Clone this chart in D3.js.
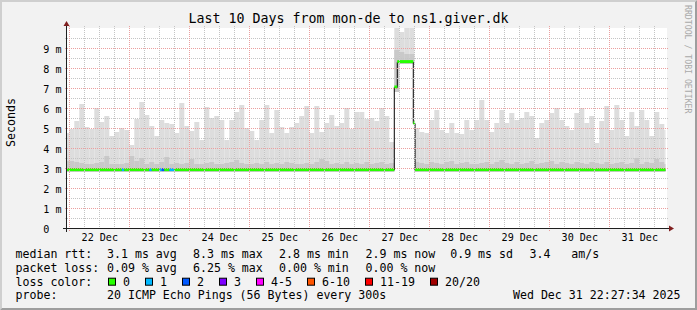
<!DOCTYPE html>
<html lang="en">
<head>
<meta charset="UTF-8" />
<title>Last 10 Days from mon-de to ns1.giver.dk</title>
<script src="https://cdn.jsdelivr.net/npm/d3@7"></script>
<style>
  body { margin: 0; background: #f2f2f2; }
  svg { display: block; font-family: "DejaVu Sans Mono", monospace; }
  text { white-space: pre; }
</style>
</head>
<body>
<svg width="697" height="310"></svg>
<script>
const title = "Last 10 Days from mon-de to ns1.giver.dk";

// smoke, one value per 2-hour bucket starting 21 Dec 22:00 (ms)
const smokeStart = new Date(2025, 11, 21, 22);
const smokeMax = [
  4.75,
  4.95, 5.35, 6.2, 5.05, 4.95, 6.0, 5.3, 5.6, 4.6, 4.8, 5.0, 4.9,
  4.15, 5.45, 6.3, 5.65, 5.1, 4.6, 5.4, 5.25, 5.2, 4.75, 6.25, 5.1,
  4.85, 5.3, 4.4, 6.05, 5.5, 5.6, 5.4, 4.4, 5.4, 5.8, 6.15, 5.0,
  4.85, 4.4, 5.4, 6.15, 4.75, 5.9, 5.05, 4.75, 5.05, 5.25, 5.6, 6.1,
  4.75, 6.1, 4.8, 5.25, 5.65, 5.1, 5.25, 6.0, 4.95, 5.8, 5.8, 5.45,
  5.5, 5.35, 6.0, 5.6, 4.3, 10.5, 9.8, 10.5, 10.5, 5.0, 4.8, 4.75,
  5.4, 5.9, 4.9, 4.75, 5.25, 4.75, 4.7, 5.4, 4.9, 5.4, 6.4, 5.4,
  4.8, 5.25, 5.9, 5.25, 5.75, 5.4, 5.5, 5.8, 5.6, 4.5, 5.25, 5.4,
  5.75, 6.0, 5.4, 5.1, 4.9, 5.75, 6.0, 5.25, 5.6, 4.25, 5.35, 6.1,
  4.9, 6.15, 5.4, 4.6, 5.8, 5.1, 5.9, 5.4, 4.6, 5.8, 5.2, 4.9
];
const smokeMid = [
  3.35,
  3.35, 3.3, 3.25, 3.2, 3.2, 3.25, 3.3, 3.6, 3.2, 3.2, 3.2, 3.25,
  3.6, 3.35, 3.5, 3.2, 3.3, 3.2, 3.3, 3.55, 3.2, 3.25, 3.2, 3.25,
  3.45, 3.2, 3.2, 3.25, 3.3, 3.2, 3.2, 3.25, 3.3, 3.4, 3.25, 3.2,
  3.2, 3.25, 3.2, 3.3, 3.2, 3.25, 3.2, 3.3, 3.25, 3.2, 3.2, 3.25,
  3.2, 3.3, 3.45, 3.35, 3.2, 3.25, 3.2, 3.3, 3.2, 3.25, 3.2, 3.3,
  3.2, 3.25, 3.3, 3.2, 3.25, 8.9, 8.8, 8.7, 8.7, 3.3, 3.25, 3.2,
  3.3, 3.25, 3.2, 3.3, 3.35, 3.2, 3.25, 3.3, 3.2, 3.2, 3.25, 3.3,
  3.2, 3.3, 3.4, 3.25, 3.2, 3.3, 3.2, 3.25, 3.35, 3.2, 3.25, 3.3,
  3.35, 3.2, 3.3, 3.25, 3.2, 3.3, 3.25, 3.2, 3.3, 3.25, 3.2, 3.3,
  3.2, 3.25, 3.3, 3.2, 3.25, 3.5, 3.2, 3.3, 3.25, 3.45, 3.3, 3.2
];
const smokeMin = [
  2.8,
  2.8, 2.8, 2.8, 2.8, 2.8, 2.8, 2.8, 2.8, 2.8, 2.8, 2.8, 2.8,
  2.8, 2.8, 2.8, 2.8, 2.8, 2.8, 2.8, 2.8, 2.8, 2.8, 2.8, 2.8,
  2.8, 2.8, 2.8, 2.8, 2.8, 2.8, 2.8, 2.8, 2.8, 2.8, 2.8, 2.8,
  2.8, 2.8, 2.8, 2.8, 2.8, 2.8, 2.8, 2.8, 2.8, 2.8, 2.8, 2.8,
  2.8, 2.8, 2.8, 2.8, 2.8, 2.8, 2.8, 2.8, 2.8, 2.8, 2.8, 2.8,
  2.8, 2.8, 2.8, 2.8, 2.8, 6.8, 8.2, 8.2, 8.2, 2.8, 2.8, 2.8,
  2.8, 2.8, 2.8, 2.8, 2.8, 2.8, 2.8, 2.8, 2.8, 2.8, 2.8, 2.8,
  2.8, 2.8, 2.8, 2.8, 2.8, 2.8, 2.8, 2.8, 2.8, 2.8, 2.8, 2.8,
  2.8, 2.8, 2.8, 2.8, 2.8, 2.8, 2.8, 2.8, 2.8, 2.8, 2.8, 2.8,
  2.8, 2.8, 2.8, 2.8, 2.8, 2.8, 2.8, 2.8, 2.8, 2.8, 2.8, 2.8
];

// median rtt steps, hours after 22 Dec 00:00
const day0 = new Date(2025, 11, 22);
const medianAt = [-2, 130, 131.2, 137.6, 138.3];
const medianMs = [2.92, 7.05, 8.32, 5.25, 2.92];
// packet loss count steps (out of 20), same hour base
const lossAt = [-2, 21, 22, 32, 33, 36, 37, 38, 40, 42];
const lossCount = [0, 1, 0, 1, 0, 1, 2, 0, 1, 0];

const lossLabels = ["0", "1", "2", "3", "4-5", "6-10", "11-19", "20/20"];
const lossColors = ["#26ff00", "#00b8ff", "#0059ff", "#7e00ff", "#ff00ff", "#ff5500", "#ff0000", "#a10000"];

const yTicks = [0, 1, 2, 3, 4, 5, 6, 7, 8, 9];
const rttStats = ["3.1 ms avg", "8.3 ms max", "2.8 ms min", "2.9 ms now", "0.9 ms sd", "3.4", "am/s"];
const lossStats = ["0.09 % avg", "6.25 % max", "0.00 % min", "0.00 % now"];
const probeText = "20 ICMP Echo Pings (56 Bytes) every 300s";
const stamp = "Wed Dec 31 22:27:34 2025";
const dataEnd = new Date(2025, 11, 31, 22, 27, 34);

const W = 697, H = 310;
const x0 = 67, x1 = 667, yTop = 28, yBot = 228;

const svg = d3.select("svg");
const x = d3.scaleTime()
  .domain([new Date(2025, 11, 21, 23, 5), new Date(2025, 11, 31, 23, 5)])
  .range([x0, x1]);
const y = d3.scaleLinear().domain([0, 10]).range([yBot, yTop]);
const hr = h => d3.timeMinute.offset(day0, Math.round(h * 60));

// background + 3d border
svg.append("rect").attr("width", W).attr("height", H).attr("fill", "#f2f2f2");
svg.append("path").attr("d", `M0,${H}L2,${H - 2}L2,2L${W - 2},2L${W},0L0,0Z`).attr("fill", "#cfcfcf");
svg.append("path").attr("d", `M2,${H - 2}L${W - 2},${H - 2}L${W - 2},2L${W},0L${W},${H}L0,${H}Z`).attr("fill", "#9e9e9e");

// canvas
svg.append("rect").attr("x", x0).attr("y", yTop).attr("width", x1 - x0).attr("height", yBot - yTop).attr("fill", "#fff");
svg.append("clipPath").attr("id", "plot")
  .append("rect").attr("x", x0).attr("y", yTop).attr("width", x1 - x0).attr("height", yBot - yTop);
const plot = svg.append("g").attr("clip-path", "url(#plot)");

// smoke
const bins = smokeMax.map((v, i) => {
  const t0 = d3.timeHour.offset(smokeStart, 2 * i);
  let t1 = d3.timeHour.offset(t0, 2);
  if (t1 > dataEnd) t1 = dataEnd;
  return { t0, t1, max: v, mid: smokeMid[i], min: smokeMin[i] };
});
plot.append("g").selectAll("rect").data(bins).join("rect")
  .attr("x", d => x(d.t0)).attr("width", d => x(d.t1) - x(d.t0))
  .attr("y", d => y(d.max)).attr("height", d => y(d.min) - y(d.max))
  .attr("fill", "#dddddd");
plot.append("g").selectAll("rect").data(bins).join("rect")
  .attr("x", d => x(d.t0)).attr("width", d => x(d.t1) - x(d.t0))
  .attr("y", d => y(d.mid)).attr("height", d => y(d.min) - y(d.mid))
  .attr("fill", "#c9c9c9");

// grid
const minorY = d3.range(0.5, 10, 1);
const majorY = yTicks.filter(v => v > 0);
const majorX = d3.timeDay.range(x.domain()[0], x.domain()[1]);
const minorX = d3.timeHour.every(6).range(x.domain()[0], x.domain()[1]).filter(d => d.getHours() !== 0);
const grid = svg.append("g").attr("fill", "none").attr("stroke-dasharray", "1,1");
grid.selectAll(".hm").data(minorY).join("line")
  .attr("x1", x0 - 2).attr("x2", x1 + 2).attr("y1", d => y(d) + 0.5).attr("y2", d => y(d) + 0.5)
  .attr("stroke", "#c4c4c4");
grid.selectAll(".vm").data(minorX).join("line")
  .attr("x1", d => Math.round(x(d)) + 0.5).attr("x2", d => Math.round(x(d)) + 0.5).attr("y1", yTop - 2).attr("y2", yBot + 2)
  .attr("stroke", "#c4c4c4");
grid.selectAll(".hM").data(majorY).join("line")
  .attr("x1", x0 - 2).attr("x2", x1 + 2).attr("y1", d => y(d) + 0.5).attr("y2", d => y(d) + 0.5)
  .attr("stroke", "#eb9f9f");
grid.selectAll(".vM").data(majorX).join("line")
  .attr("x1", d => Math.round(x(d)) + 0.5).attr("x2", d => Math.round(x(d)) + 0.5).attr("y1", yTop - 2).attr("y2", yBot + 3)
  .attr("stroke", "#eb9f9f");

// median line + loss-coloured band
const endH = (dataEnd - day0) / 36e5;
const stepAt = (ats, vals, h) => vals[d3.bisectRight(ats, h) - 1];
const medPts = medianAt.map((h, i) => [hr(h), medianMs[i]]).concat([[dataEnd, medianMs[medianMs.length - 1]]]);
plot.append("path")
  .attr("d", d3.line().x(d => x(d[0])).y(d => y(d[1]) + 0.5).curve(d3.curveStepAfter)(medPts))
  .attr("fill", "none").attr("stroke", "#000").attr("stroke-width", 1);
const cuts = Array.from(new Set(medianAt.concat(lossAt, [endH]))).sort((a, b) => a - b);
const segs = d3.pairs(cuts).map(([a, b]) => ({
  a, b, m: stepAt(medianAt, medianMs, a), loss: stepAt(lossAt, lossCount, a)
}));
plot.append("g").selectAll("rect").data(segs).join("rect")
  .attr("x", d => x(hr(d.a))).attr("width", d => x(hr(d.b)) - x(hr(d.a)))
  .attr("y", d => y(d.m + 0.075)).attr("height", d => y(d.m - 0.075) - y(d.m + 0.075))
  .attr("fill", d => lossColors[d.loss]);

// axes
svg.append("line").attr("x1", x0 - 4).attr("x2", x1 + 4).attr("y1", yBot + 0.5).attr("y2", yBot + 0.5)
  .attr("stroke", "#1f1f1f");
svg.append("line").attr("x1", x0 - 0.5).attr("x2", x0 - 0.5).attr("y1", yBot + 4).attr("y2", yTop - 4)
  .attr("stroke", "#1f1f1f");
svg.append("path").attr("d", `M${x1 + 2},${yBot - 2.5}L${x1 + 2},${yBot + 3.5}L${x1 + 7},${yBot + 0.5}Z`).attr("fill", "#801f1f");
svg.append("path").attr("d", `M${x0 - 3.5},${yTop - 2}L${x0 + 2.5},${yTop - 2}L${x0 - 0.5},${yTop - 7}Z`).attr("fill", "#801f1f");

const xAxis = d3.axisBottom(x)
  .tickValues(d3.timeDay.range(day0, dataEnd).map(d => d3.timeHour.offset(d, 12)))
  .tickFormat(d3.timeFormat("%d %b")).tickSize(0).tickPadding(0);
svg.append("g").attr("transform", `translate(0,${yBot + 13})`).call(xAxis)
  .call(g => g.select(".domain").remove())
  .selectAll("text").attr("font-family", "DejaVu Sans Mono").attr("font-size", 10.1).attr("fill", "#000")
  .attr("dy", 0).attr("y", 0);

const yAxis = d3.axisLeft(y).tickValues(yTicks)
  .tickFormat(d => d === 0 ? "0  " : d + " m").tickSize(0).tickPadding(0);
svg.append("g").attr("transform", `translate(${x0 - 5.5},0.5)`).call(yAxis)
  .call(g => g.select(".domain").remove())
  .selectAll("text").attr("font-family", "DejaVu Sans Mono").attr("font-size", 10.1).attr("fill", "#000")
  .attr("dy", "0.36em");

// title, unit label, watermark
svg.append("text").attr("x", W / 2).attr("y", 23.3).attr("text-anchor", "middle")
  .attr("font-size", 13.3).text(title);
svg.append("text").attr("transform", "translate(15,122.5) rotate(-90)").attr("text-anchor", "middle")
  .attr("font-size", 11.6).text("Seconds");
svg.append("text").attr("transform", "translate(685,5) rotate(90)")
  .attr("font-size", 8.2).attr("fill", "#a9a9a9").text("RRDTOOL / TOBI OETIKER");

// legend
const rowY = [258.3, 272, 285.7, 299.4];
const leg = svg.append("g").attr("font-size", 11.6).attr("fill", "#000");
const rttX = [107, 193, 279, 365.5, 450.2, 529.5, 571.2];
leg.append("text").attr("x", 15.5).attr("y", rowY[0]).text("median rtt:");
leg.selectAll(".r").data(rttStats).join("text").attr("x", (d, i) => rttX[i]).attr("y", rowY[0]).text(d => d);
leg.append("text").attr("x", 15.5).attr("y", rowY[1]).text("packet loss:");
leg.selectAll(".l").data(lossStats).join("text").attr("x", (d, i) => rttX[i]).attr("y", rowY[1]).text(d => d);
leg.append("text").attr("x", 15.5).attr("y", rowY[2]).text("loss color:");
const boxX = [108.5, 145.5, 182.5, 219.5, 256.5, 307.5, 365.5, 430.5];
const keys = leg.selectAll(".k").data(lossLabels).join("g");
keys.append("rect").attr("x", (d, i) => boxX[i]).attr("y", rowY[2] - 7.5).attr("width", 7).attr("height", 7)
  .attr("fill", (d, i) => lossColors[i]).attr("stroke", "#000");
keys.append("text").attr("x", (d, i) => boxX[i] + 14.5).attr("y", rowY[2]).text(d => d);
leg.append("text").attr("x", 15.5).attr("y", rowY[3]).text("probe:");
leg.append("text").attr("x", 107).attr("y", rowY[3]).text(probeText);
leg.append("text").attr("x", 680.5).attr("y", rowY[3]).attr("text-anchor", "end").text(stamp);
</script>
</body>
</html>
